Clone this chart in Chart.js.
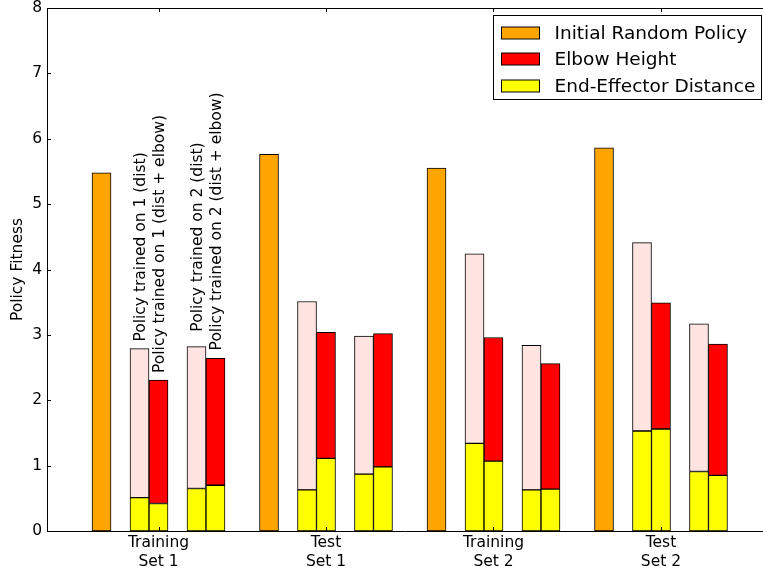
<!doctype html>
<html>
<head>
<meta charset="utf-8">
<script src="https://cdn.jsdelivr.net/npm/chart.js@4.4.0/dist/chart.umd.min.js"></script>
<style>
  html, body { margin: 0; padding: 0; background: #fff; }
  #wrap { position: relative; width: 763px; height: 574px; }
</style>
</head>
<body>
<div id="wrap"><canvas id="myChart"></canvas></div>
<script>
  // groups on the x axis
  const groupLabels = [['Training', 'Set 1'], ['Test', 'Set 1'], ['Training', 'Set 2'], ['Test', 'Set 2']];
  const initialRandom = [5.48, 5.76, 5.55, 5.86];

  // policies (one bar each per group), written above the bars of the first group
  const policyNames = [
    'Policy trained on 1 (dist)',
    'Policy trained on 1 (dist + elbow)',
    'Policy trained on 2 (dist)',
    'Policy trained on 2 (dist + elbow)'
  ];
  // end-effector distance (bottom, yellow) and elbow height (top part) per policy
  const distOn1Ee = [0.51, 0.63, 1.34, 1.53];
  const distOn1Elbow = [2.28, 2.88, 2.90, 2.88];
  const bothOn1Ee = [0.42, 1.11, 1.07, 1.56];
  const bothOn1Elbow = [1.89, 1.93, 1.89, 1.93];
  const distOn2Ee = [0.65, 0.87, 0.63, 0.91];
  const distOn2Elbow = [2.17, 2.11, 2.21, 2.26];
  const bothOn2Ee = [0.70, 0.98, 0.64, 0.85];
  const bothOn2Elbow = [1.94, 2.04, 1.92, 2.01];

  const legendLabels = ['Initial Random Policy', 'Elbow Height', 'End-Effector Distance'];
  const yTicks = [0, 1, 2, 3, 4, 5, 6, 7, 8];

  const FONT = "'DejaVu Sans', sans-serif";
  const ORANGE = '#ffa500', RED = '#ff0000', YELLOW = '#ffff00', PINK = '#ffe4e1';
  const SLOT = 0.1134;            // width of one bar in x units
  const initialSlot = -3;
  const policySlots = [-1, 0, 2, 3];
  const policyEe = [distOn1Ee, bothOn1Ee, distOn2Ee, bothOn2Ee];
  const policyElbow = [distOn1Elbow, bothOn1Elbow, distOn2Elbow, bothOn2Elbow];

  const orangeData = initialRandom.map((v, g) => ({ x: g + initialSlot * SLOT, y: [0, v] }));
  const yellowData = [], redData = [], pinkData = [];
  groupLabels.forEach((_, g) => {
    policySlots.forEach((s, p) => {
      const ee = policyEe[p][g];
      const top = ee + policyElbow[p][g];
      yellowData.push({ x: g + s * SLOT, y: [0, ee] });
      // dist-only policies get the pale elbow segment
      (p % 2 === 0 ? pinkData : redData).push({ x: g + s * SLOT, y: [ee, top] });
    });
  });

  const barStyle = {
    grouped: false,
    barThickness: 19,
    borderWidth: 1,
    borderColor: '#000',
    borderSkipped: false
  };

  Chart.defaults.font.family = FONT;
  Chart.defaults.color = '#000';

  const framePlugin = {
    id: 'frame',
    afterDraw(chart) {
      const { ctx, chartArea: a, scales } = chart;
      ctx.save();
      ctx.strokeStyle = '#000';
      ctx.lineWidth = 1;
      ctx.beginPath();
      // top spine
      ctx.moveTo(a.left, Math.round(a.top) + 0.5);
      ctx.lineTo(a.right, Math.round(a.top) + 0.5);
      // inward ticks
      scales.y.ticks.forEach(t => {
        const y = Math.round(scales.y.getPixelForValue(t.value)) + 0.5;
        ctx.moveTo(a.left, y);
        ctx.lineTo(a.left + 4, y);
      });
      scales.x.ticks.forEach(t => {
        const x = Math.round(scales.x.getPixelForValue(t.value)) + 0.5;
        ctx.moveTo(x, a.bottom);
        ctx.lineTo(x, a.bottom - 4);
        ctx.moveTo(x, a.top);
        ctx.lineTo(x, a.top + 4);
      });
      ctx.stroke();

      // rotated policy names above the first group's bars
      const pinkMeta = chart.getDatasetMeta(3);
      const redMeta = chart.getDatasetMeta(2);
      const gaps = [7, 7, 15, 8];
      ctx.font = '15.5px ' + FONT;
      ctx.fillStyle = '#000';
      ctx.textAlign = 'left';
      ctx.textBaseline = 'alphabetic';
      policyNames.forEach((name, p) => {
        const el = p % 2 === 0 ? pinkMeta.data[p / 2] : redMeta.data[(p - 1) / 2];
        ctx.save();
        ctx.translate(el.x + 5.5, el.y - gaps[p]);
        ctx.rotate(-Math.PI / 2);
        ctx.fillText(name, 0, 0);
        ctx.restore();
      });

      // legend box
      const colors = [ORANGE, RED, YELLOW];
      ctx.font = '18.5px ' + FONT;
      const textW = Math.max(...legendLabels.map(t => ctx.measureText(t).width));
      const w = 8 + 38 + 15 + textW + 7;
      const right = a.right - 1.5;
      const left = Math.round(right - w) + 0.5;
      const top = Math.round(a.top) + 7.5;
      ctx.fillStyle = '#fff';
      ctx.fillRect(left, top, right - left, 84);
      ctx.strokeRect(left, top, right - left, 84);
      ctx.textBaseline = 'middle';
      legendLabels.forEach((t, i) => {
        const cy = Math.round(top + 17.5 + i * 26.3);
        ctx.fillStyle = colors[i];
        ctx.fillRect(left + 8, cy - 6, 38, 12);
        ctx.strokeRect(left + 8, cy - 6, 38, 12);
        ctx.fillStyle = '#000';
        ctx.fillText(t, left + 61, cy + 1);
      });
      ctx.restore();
    }
  };

  const ctx = document.getElementById('myChart').getContext('2d');
  const myChart = new Chart(ctx, {
    type: 'bar',
    data: {
      datasets: [
        { label: 'Initial Random Policy', data: orangeData, backgroundColor: ORANGE, ...barStyle },
        { label: 'End-Effector Distance', data: yellowData, backgroundColor: YELLOW, ...barStyle },
        { label: 'Elbow Height', data: redData, backgroundColor: RED, ...barStyle },
        { label: 'Elbow Height (dist only)', data: pinkData, backgroundColor: PINK, ...barStyle }
      ]
    },
    options: {
      responsive: true,
      maintainAspectRatio: false,
      animation: false,
      layout: { padding: { top: 8, right: 0, left: 0, bottom: 0 } },
      plugins: {
        legend: { display: false },
        tooltip: { enabled: false }
      },
      scales: {
        x: {
          type: 'linear',
          min: -0.6657,
          max: 3.609,
          offset: false,
          grid: { display: false, drawTicks: false, offset: false },
          border: { display: true, color: '#000', width: 1 },
          afterBuildTicks: (scale) => {
            scale.ticks = groupLabels.map((_, i) => ({ value: i }));
          },
          afterFit: (scale) => {
            scale.height = 43;
            scale.paddingLeft = 0;
            scale.paddingRight = 0;
          },
          ticks: {
            font: { size: 15.5 },
            color: '#000',
            padding: 3,
            maxRotation: 0,
            autoSkip: false,
            callback: (value, index) => groupLabels[index]
          }
        },
        y: {
          min: 0,
          max: 8,
          grid: { display: false, drawTicks: false },
          border: { display: true, color: '#000', width: 1 },
          afterBuildTicks: (scale) => {
            scale.ticks = yTicks.map(v => ({ value: v }));
          },
          afterFit: (scale) => {
            scale.width = 47;
            scale.paddingTop = 0;
            scale.paddingBottom = 0;
          },
          ticks: { font: { size: 15.5 }, color: '#000', padding: 5 },
          title: {
            display: true,
            text: 'Policy Fitness',
            font: { size: 15.5 },
            color: '#000',
            padding: { top: 9, bottom: 0 }
          }
        }
      }
    },
    plugins: [framePlugin]
  });
</script>
</body>
</html>
